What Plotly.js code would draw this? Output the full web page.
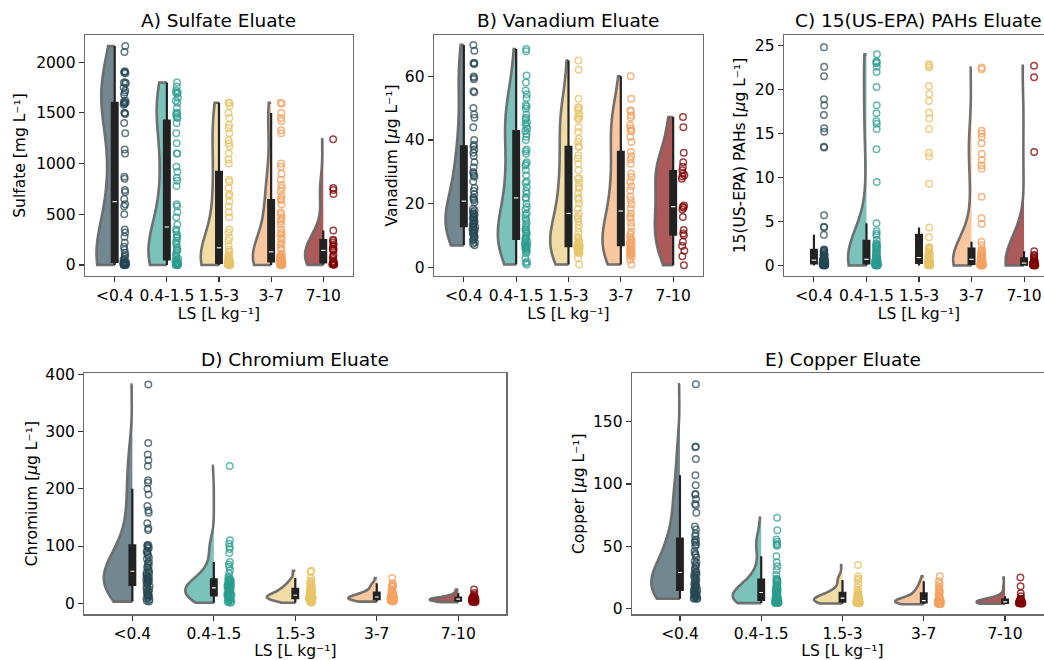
<!DOCTYPE html>
<html><head><meta charset="utf-8">
<script src="https://cdn.plot.ly/plotly-3.0.1.min.js"></script>
<style>html,body{margin:0;padding:0;overflow:hidden;background:#fff}#chart{width:1054px;height:660px}</style>
</head><body><div id="chart"></div>
<script>
const categories = ['<0.4', '0.4-1.5', '1.5-3', '3-7', '7-10'];

// A) Sulfate [mg/L]
const sulfate_lt04 = [2160,2100,1910,1900,1900,1890,1800,1800,1790,1750,1720,1700,1680,1620,1610,1600,1600,1590,1580,1500,1500,1490,1400,1300,1140,1100,870,850,740,720,650,600,580,500,350,320,280,220,180,150,120,100,80,60,50,40,30,25,20,18,15,12,10,10,8,6,5,5,3,2,0,0];
const sulfate_04_15 = [1800,1760,1720,1700,1700,1690,1650,1620,1600,1550,1500,1500,1480,1460,1450,1400,1300,1200,1100,1100,970,920,860,830,780,600,580,520,470,400,350,330,300,280,270,240,220,200,170,150,140,120,100,80,60,50,40,30,25,20,15,12,10,8,6,5,3,2,1,0];
const sulfate_15_3 = [1600,1600,1570,1500,1450,1380,1350,1300,1230,1200,1170,1100,1040,1000,840,820,760,700,680,630,580,520,470,350,320,270,240,190,150,130,110,90,80,70,60,50,45,40,35,30,25,22,20,18,15,12,10,8,6,5,4,3,2,1,0,0];
const sulfate_3_7 = [1600,1590,1500,1450,1420,1330,1300,1000,970,900,840,790,760,730,680,650,640,600,520,500,470,450,430,400,350,320,300,270,250,220,200,170,150,110,100,90,85,80,75,70,65,60,55,50,48,45,42,40,38,35,30,28,25,22,20,18,15,12,10,8,6,5,4,3,2,0];
const sulfate_7_10 = [1240,760,740,700,340,250,240,220,200,180,160,150,140,100,80,60,40,30,20,15,10,8,5,2];

// B) Vanadium [ug/L]
const vanadium_lt04 = [69.8,68,64.2,64,63.8,59.9,59.5,59,55.3,55,50,48,47,44,40,38.5,38,37,36,35,33,31.5,30,29.5,29,28.5,27,25,24,23,22,21.5,21.2,20.5,18.5,18,17.5,17,16.8,16.5,16,15.8,15.5,15,14.8,14.5,14,13.8,13.5,13,12.8,12.5,12,11.8,11.5,11,10.8,10.5,10,9.8,9.5,9,8.5,8,7.5,7];
const vanadium_04_15 = [68.5,67.8,60.2,58,55.5,54.3,53.2,51,50.5,49.8,48,47,46.5,45.6,45,44.3,43.5,42.8,42,41,40,37,36.5,35.7,33,32.5,32,30.5,29,27,26.5,25.3,24,23.2,22,21.7,20,19,18.2,17,16.5,15.5,14.9,14,13.3,12.5,12,11.5,11,10.7,10,9.5,9,8.6,8.2,7.8,7.5,7,6.8,6.5,6.2,6,5.7,5.5,5,4.5,3,1.9,1.5,1];
const vanadium_15_3 = [64.9,62,52.9,50.3,50,49.3,48.2,47.5,46.9,46.5,44,42.5,40.4,39.4,38,37.8,35.2,34.2,32.6,30.5,28,27.9,26.6,25.5,24.8,23.4,22,21.4,20.1,18.5,17,16,15.4,14.5,13.3,12.3,11,9.7,9.2,8.6,8.2,7.8,7.5,7.3,7.1,6.8,6.5,6.4,6.2,6,5.8,5.6,5.5,5.3,5.2,5,5,4.8,4.5,3,1];
const vanadium_3_7 = [60,52.9,49.3,49,47.7,47,44.6,43.7,43,42.8,41,39.4,36.3,34.9,33.9,32.6,29.5,28.4,26.9,25.5,24.3,22.2,21.1,19.9,18.5,17,16,15.4,14.1,12.8,11.3,10.5,9.7,9,8.6,8,7.5,7.1,6.5,6,5.7,5.2,5,4.7,4.5,4.2,3.8,3.4,2.5,1];
const vanadium_7_10 = [47.2,44,36,33,31.6,30.5,29.5,29,28.6,27.9,19.5,19.1,18.8,18.2,15.9,11.8,10.7,10.2,8.1,6.8,5.3,3.6,0.8];

// C) 15 (US-EPA) PAHs [ug/L]
const pahs_lt04 = [24.8,22.6,21.5,18.9,18.2,17.1,15.6,15.2,13.5,13.4,5.7,4.4,4.3,3.5,1.8,1.75,1.7,1.6,1.5,1.4,1.3,1.2,1.1,1.0,0.9,0.8,0.75,0.7,0.65,0.62,0.6,0.58,0.55,0.55,0.5,0.5,0.45,0.45,0.4,0.4,0.35,0.35,0.3,0.3,0.25,0.25,0.2,0.2,0.15,0.15,0.12,0.1,0.1,0.08,0.06,0.05,0.04,0.03,0.02,0.01,0];
const pahs_04_15 = [24,23.2,23.1,23,22.6,22,20.3,18.2,17.3,16.4,16.1,15.5,13.2,9.5,4.8,3.9,3.6,3.4,2.9,2.5,2.4,2.3,2.2,2.1,2.0,1.9,1.8,1.6,1.5,1.4,1.3,1.2,1.1,1.0,0.9,0.8,0.75,0.7,0.7,0.65,0.65,0.6,0.6,0.55,0.5,0.5,0.45,0.4,0.4,0.35,0.35,0.3,0.3,0.28,0.25,0.25,0.22,0.2,0.2,0.18,0.15,0.15,0.12,0.1,0.1,0.08,0.06,0.05,0.05,0.04,0.03,0.02,0.02,0.01,0];
const pahs_15_3 = [22.9,22.7,22.5,20.4,19.5,18.7,17.4,16.7,15.5,12.8,12.4,9.3,4.3,3.2,2.1,2.0,1.9,1.8,1.6,1.5,1.4,1.3,1.2,1.1,1.0,0.95,0.9,0.85,0.8,0.7,0.7,0.6,0.55,0.5,0.5,0.45,0.4,0.4,0.35,0.3,0.25,0.2,0.18,0.15,0.12,0.1,0.08,0.05,0.05,0.03,0.02,0.01,0];
const pahs_3_7 = [22.5,22.3,15.3,15.0,14.6,13.9,12.7,12.0,11.4,11.0,7.8,5.4,4.7,2.7,2.3,1.8,1.7,1.6,1.5,1.4,1.3,1.2,1.1,1.0,0.95,0.9,0.85,0.8,0.75,0.72,0.7,0.65,0.6,0.55,0.5,0.5,0.45,0.4,0.4,0.35,0.3,0.3,0.25,0.2,0.2,0.18,0.15,0.15,0.12,0.1,0.1,0.08,0.06,0.05,0.05,0.04,0.03,0.02,0.02,0.01,0];
const pahs_7_10 = [22.7,21.4,12.9,1.6,1.2,1.1,0.9,0.8,0.7,0.6,0.5,0.4,0.35,0.3,0.28,0.25,0.22,0.2,0.18,0.15,0.12,0.1,0.08,0.06,0.05,0.04,0.03,0.02,0.01,0];

// D) Chromium [ug/L]
const chromium_lt04 = [382,280,260,250,240,215,211,200,190,170,162,158,140,131,128,102,101,100,98,96,92,90,86,84,80,78,72,70,66,64,62,58,56,54,52,50,48,46,45,44,43,42,41,40,39,38,36,35,33,30,28,26,24,22,20,18,16,15,14,12,10,8,6,4,3];
const chromium_04_15 = [240,110,104,99,95,88,72,68,64,58,52,46,44,42,41,40,39,38,36,35,34,33,32,31,30,29,28,27,26,25,24,23,22,21,20,19,18,17,16,15,14,14,13,12,11,10,9,8,7,6,5,4,3,2,1];
const chromium_15_3 = [57,55,44,40,38,36,34,32,30,28,27,26,25,24,23,22,21,20,19,18,17,16,15,14.5,14,13.5,13,12.5,12,11.5,11,10.5,10,10,9.5,9,9,8.5,8,8,7.5,7,6.5,6,5,4,3,2,1];
const chromium_3_7 = [44,35,32,30,29,24,22,20,19,18,17,16,15,14,13,12.5,12,11,10.5,10,9.5,9,8.5,8,8,7.5,7,7,6.5,6,5.5,5,4.5,4,3];
const chromium_7_10 = [24,18,15,12,11,10,9.5,9,8.5,8,7.5,7,6.5,6,5.5,5,4.5,4,3.5,3,2.5,2];

// E) Copper [ug/L]
const copper_lt04 = [180,130,129.5,120,107,99,92,91.5,88,84,83,77,66,63.5,60,58,55.5,54,53,51.5,50,46,44,43,41,38,37,35,34,32,31,29.5,29,28,27,26,25,24,23,22,21,20,20,19,18,17.5,17,16,15,15,14,13.5,13,12.5,12,11.5,11,10.5,10,9.5,9,8.5,8.2,8,8];
const copper_04_15 = [73,63,55.5,53.6,52,51,50.5,42,37,34,31,27,24,23.5,23,22,21,20,19,18,17.5,17,16,15.5,15,14,13.5,13,12.5,12,11.5,11,10.5,10,9.5,9,9,8.5,8,8,7.5,7,7,6.5,6,6,5.5,5.5,5,5,5,5,4.8,4.5,4.5];
const copper_15_3 = [35,26,24,23,20,17,15,14,13,12,11.5,11,10.5,10,9.5,9,8.8,8.5,8,7.5,7,7,6.5,6.5,6,6,5.5,5.5,5.2,5,5,5,4.8,4.5,4.2];
const copper_3_7 = [26,22,20,18,16,15,14,13,12,11,10,9,8.5,8,7.5,7,6.5,6.2,6,6,5.8,5.5,5.5,5.2,5,5,5,4.8,4.5,4.2,4,3.8,3.5];
const copper_7_10 = [25,18,12.3,10,8,7.5,7,6.5,6,5.8,5.6,5.5,5.4,5.2,5,5,4.8,4.8,4.6,4.5,4.5,4.4,4.2,4];

// ---------- styling / layout ----------
const W = 1054, H = 660;
const fillColors = ['rgba(38,70,83,0.65)','rgba(42,157,143,0.62)','rgba(233,196,106,0.6)','rgba(244,162,97,0.6)','rgba(128,0,0,0.65)'];
const pointColors = ['rgba(38,70,83,0.72)','rgba(42,157,143,0.72)','rgba(233,196,106,0.8)','rgba(244,162,97,0.8)','rgba(128,0,0,0.75)'];
const FONT = 'DejaVu Sans, sans-serif';
const XTITLE = 'LS [L kg⁻¹]';

const panels = [
  {title:'A) Sulfate Eluate', ytitle:'Sulfate [mg L⁻¹]', data:[sulfate_lt04,sulfate_04_15,sulfate_15_3,sulfate_3_7,sulfate_7_10],
   px:[85,353], py:[35,276], yrange:[-108,2268], dtick:500, xr:0.57, bw:0.11, violins:[1,1,1,1,1], ystand:6},
  {title:'B) Vanadium Eluate', ytitle:'Vanadium [<i>μ</i>g L⁻¹]', data:[vanadium_lt04,vanadium_04_15,vanadium_15_3,vanadium_3_7,vanadium_7_10],
   px:[434,703], py:[35,276], yrange:[-2.6,72.9], dtick:20, xr:0.57, bw:0.11, violins:[1,1,1,1,1], ystand:3},
  {title:'C) 15(US-EPA) PAHs Eluate', ytitle:'15(US-EPA) PAHs [<i>μ</i>g L⁻¹]', data:[pahs_lt04,pahs_04_15,pahs_15_3,pahs_3_7,pahs_7_10],
   px:[784,1054], py:[35,276], yrange:[-1.2,26.2], dtick:5, xr:0.57, bw:0.11, violins:[0,1,0,1,1], ystand:5},
  {title:'D) Chromium Eluate', ytitle:'Chromium [<i>μ</i>g L⁻¹]', data:[chromium_lt04,chromium_04_15,chromium_15_3,chromium_3_7,chromium_7_10],
   px:[84.3,506.3], py:[373,614.3], yrange:[-19.2,402.3], dtick:100, xr:0.59, bw:0.07, violins:[1,1,1,1,1], ystand:4},
  {title:'E) Copper Eluate', ytitle:'Copper [<i>μ</i>g L⁻¹]', data:[copper_lt04,copper_04_15,copper_15_3,copper_3_7,copper_7_10],
   px:[632,1053], py:[373,614.3], yrange:[-4.5,189], dtick:50, xr:0.59, bw:0.07, violins:[1,1,1,1,1], ystand:4}
];

function mean(a){return a.reduce((s,v)=>s+v,0)/a.length;}
function std(a){const m=mean(a);return Math.sqrt(a.reduce((s,v)=>s+(v-m)*(v-m),0)/(a.length-1));}
function median(a){const s=[...a].sort((p,q)=>p-q);const n=s.length;return n%2?s[(n-1)/2]:(s[n/2-1]+s[n/2])/2;}

const traces = [];
const shapes = [];
const annotations = [];
const layout = {
  width: W, height: H, margin:{l:0,r:0,t:0,b:0}, paper_bgcolor:'white', plot_bgcolor:'white',
  showlegend:false, violinmode:'overlay', boxmode:'overlay',
  font:{family:FONT, size:15, color:'black'}, hovermode:false
};

panels.forEach((p, k) => {
  const ax = k===0 ? '' : String(k+1);
  const xa = 'x'+ax, ya = 'y'+ax;
  const halfW = 0.35;
  p.data.forEach((vals, i) => {
    traces.push({
      type:'violin', x0:i, y:vals, xaxis:xa, yaxis:ya, name:categories[i],
      side:'negative', width:2*halfW, scalemode:'width', spanmode:'hard',
      bandwidth: std(vals)*Math.pow(vals.length,-0.2),
      fillcolor: p.violins[i] ? fillColors[i] : 'rgba(0,0,0,0)',
      line:{color: p.violins[i] ? 'rgba(105,105,105,0.95)' : 'rgba(0,0,0,0)', width: p.violins[i] ? 2.6 : 0},
      points:'all', pointpos:0.55, jitter:0.08,
      marker:{symbol:'circle-open', size:6.5, color:pointColors[i], line:{width:1.5, color:pointColors[i]}},
      box:{visible:false}, meanline:{visible:false}, hoverinfo:'skip'
    });
    traces.push({
      type:'box', x0:i, y:vals, xaxis:xa, yaxis:ya, name:categories[i],
      width:p.bw, whiskerwidth:0, boxpoints:'outliers', marker:{opacity:0, size:1},
      fillcolor:'#222222', line:{color:'#222222', width:2.2}, hoverinfo:'skip'
    });
    const m = median(vals);
    shapes.push({type:'line', xref:xa, yref:ya, x0:i-p.bw/2+0.012, x1:i+p.bw/2-0.012, y0:m, y1:m,
      line:{color:'white', width:1.1}});
  });
  const xdom = [p.px[0]/W, p.px[1]/W];
  const ydom = [1-p.py[1]/H, 1-p.py[0]/H];
  layout['xaxis'+ax] = {
    domain:xdom, anchor:ya, range:[-p.xr, 4+p.xr], tickmode:'array', tickvals:[0,1,2,3,4], ticktext:categories,
    showline:true, mirror:true, linecolor:'#6b6b6b', linewidth:1.3, ticks:'outside', ticklen:5, tickwidth:1.1, tickcolor:'#333',
    showgrid:false, zeroline:false, tickfont:{size:15.5},
    title:{text:XTITLE, font:{size:15.5}, standoff:4}
  };
  layout['yaxis'+ax] = {
    domain:ydom, anchor:xa, range:p.yrange, dtick:p.dtick, tick0:0,
    showline:true, mirror:true, linecolor:'#6b6b6b', linewidth:1.3, ticks:'outside', ticklen:5, tickwidth:1.1, tickcolor:'#333',
    showgrid:false, zeroline:false, tickfont:{size:15.5},
    title:{text:p.ytitle, font:{size:15.5}, standoff:p.ystand}
  };
  annotations.push({text:p.title, xref:'paper', yref:'paper', x:(xdom[0]+xdom[1])/2, y:ydom[1], xanchor:'center', yanchor:'middle',
    yshift:14, showarrow:false, font:{size:18.5, color:'black'}});
});
layout.shapes = shapes;
layout.annotations = annotations;

Plotly.newPlot('chart', traces, layout, {staticPlot:true, displayModeBar:false});
</script>
</body></html>
